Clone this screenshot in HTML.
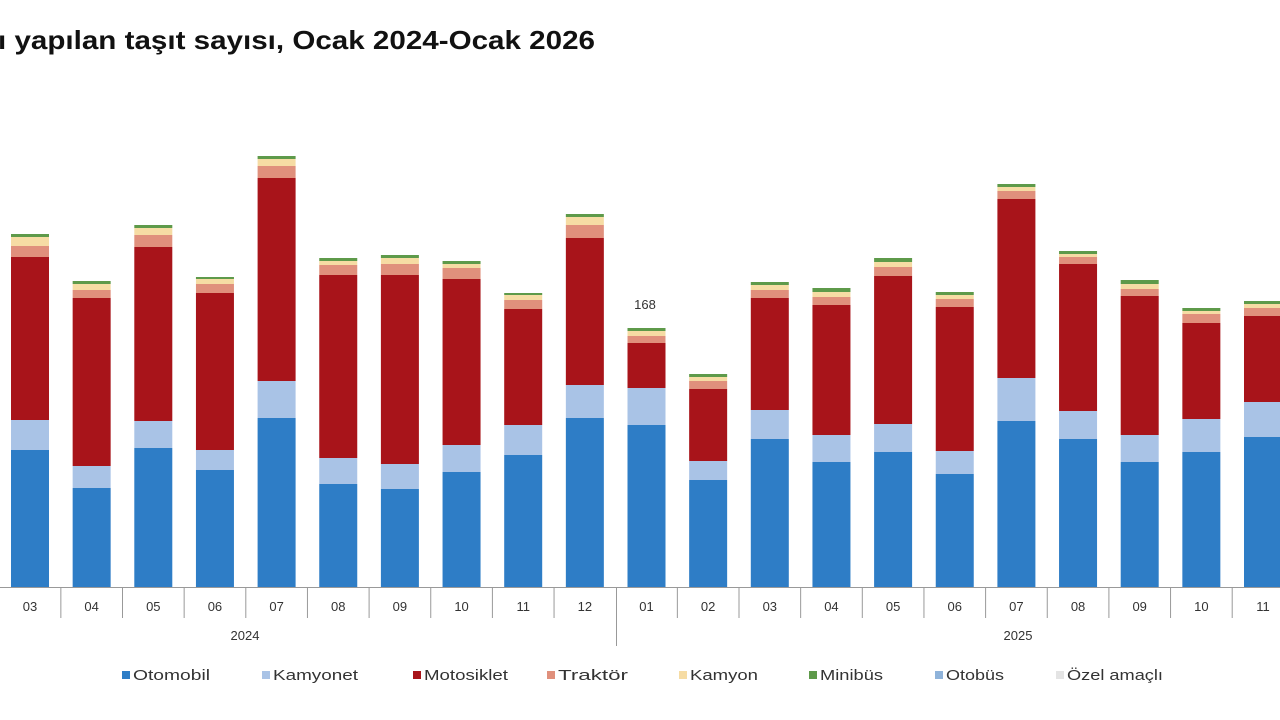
<!DOCTYPE html>
<html><head><meta charset="utf-8"><style>
html,body{margin:0;padding:0;background:#fff;width:1280px;height:720px;overflow:hidden}
svg{display:block;font-family:"Liberation Sans",sans-serif}
</style></head><body>
<svg id="s" width="1280" height="720" viewBox="0 0 1280 720">
<text x="-2" y="49" font-size="26" font-weight="bold" fill="#111" textLength="597" lengthAdjust="spacingAndGlyphs">ı yapılan taşıt sayısı, Ocak 2024-Ocak 2026</text>
<line x1="0" y1="587.5" x2="1280" y2="587.5" stroke="#999" stroke-width="1"/>
<text x="645" y="309" font-size="13" fill="#333" text-anchor="middle">168</text>
<text x="245" y="640" font-size="13" fill="#333" text-anchor="middle">2024</text>
<text x="1018" y="640" font-size="13" fill="#333" text-anchor="middle">2025</text>
<line x1="616.5" y1="587" x2="616.5" y2="646" stroke="#999"/>
<g font-size="15" fill="#333">
<rect x="122" y="671" width="8" height="8" fill="#2e7dc6"/><text x="133" y="680" textLength="77" lengthAdjust="spacingAndGlyphs">Otomobil</text>
<rect x="262" y="671" width="8" height="8" fill="#a9c3e6"/><text x="273" y="680" textLength="85" lengthAdjust="spacingAndGlyphs">Kamyonet</text>
<rect x="413" y="671" width="8" height="8" fill="#a8141a"/><text x="424" y="680" textLength="84" lengthAdjust="spacingAndGlyphs">Motosiklet</text>
<rect x="547" y="671" width="8" height="8" fill="#e0907c"/><text x="558" y="680" textLength="70" lengthAdjust="spacingAndGlyphs">Traktör</text>
<rect x="679" y="671" width="8" height="8" fill="#f6dca4"/><text x="690" y="680" textLength="68" lengthAdjust="spacingAndGlyphs">Kamyon</text>
<rect x="809" y="671" width="8" height="8" fill="#5e9a4a"/><text x="820" y="680" textLength="63" lengthAdjust="spacingAndGlyphs">Minibüs</text>
<rect x="935" y="671" width="8" height="8" fill="#8fb3da"/><text x="946" y="680" textLength="58" lengthAdjust="spacingAndGlyphs">Otobüs</text>
<rect x="1056" y="671" width="8" height="8" fill="#e4e4e4"/><text x="1067" y="680" textLength="96" lengthAdjust="spacingAndGlyphs">Özel amaçlı</text>
</g>
</svg>
<script>
var d=[
["03",450,420,257,246,237,234],["04",488,466,298,290,284,281],["05",448,421,247,235,228,225],
["06",470,450,293,284,279,277],["07",418,381,178,166,159,156],["08",484,458,275,265,261,258],
["09",489,464,275,264,258,255],["10",472,445,279,268,264,261],["11",455,425,309,300,295,293],
["12",418,385,238,225,217,214],["01",425,388,343,336,331,328],["02",480,461,389,381,377,374],
["03",439,410,298,290,285,282],["04",462,435,305,297,292,288],["05",452,424,276,267,262,258],
["06",474,451,307,299,295,292],["07",421,378,199,191,187,184],["08",439,411,264,257,254,251],
["09",462,435,296,289,284,280],["10",452,419,323,314,311,308],["11",437,402,316,308,304,301]];
var c=["#2e7dc6","#a9c3e6","#a8141a","#e0907c","#f6dca4","#5e9a4a"];
var s=document.getElementById("s"),h="";
for(var i=0;i<d.length;i++){
 var cx=30+i*61.65,x=cx-19,prev=587;
 for(var k=0;k<6;k++){var t=d[i][k+1];h+='<rect x="'+x+'" y="'+t+'" width="38" height="'+(prev-t)+'" fill="'+c[k]+'"/>';prev=t;}
 h+='<text x="'+cx+'" y="611" font-size="13" fill="#333" text-anchor="middle">'+d[i][0]+'</text>';
 var lx=cx-30.8; if(i!=10) h+='<line x1="'+lx+'" y1="587" x2="'+lx+'" y2="618" stroke="#999"/>';
}
h+='<line x1="'+(30+20*61.65+30.8)+'" y1="587" x2="'+(30+20*61.65+30.8)+'" y2="618" stroke="#999"/>';
s.insertAdjacentHTML("beforeend",h);
</script>
</body></html>
